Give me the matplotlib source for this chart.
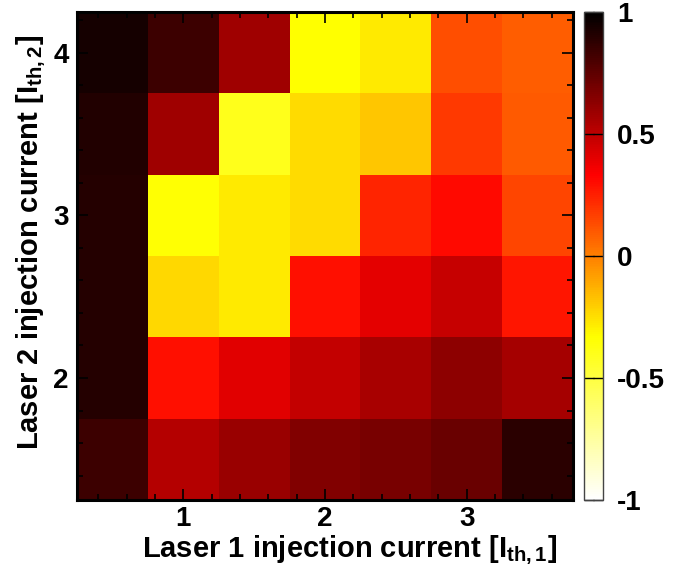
import numpy as np
import matplotlib
matplotlib.use('Agg')
from matplotlib import pyplot as plt
from matplotlib.colors import LinearSegmentedColormap
from matplotlib.ticker import MultipleLocator

plt.rcParams['font.family'] = ['Liberation Sans', 'DejaVu Sans']
plt.rcParams['font.weight'] = 'bold'
plt.rcParams['mathtext.fontset'] = 'custom'
plt.rcParams['mathtext.rm'] = 'Liberation Sans:bold'
plt.rcParams['mathtext.bf'] = 'Liberation Sans:bold'
plt.rcParams['mathtext.it'] = 'Liberation Sans:bold'

# laser 1 / laser 2 injection currents (cell centres)
i1 = [0.5, 1.0, 1.5, 2.0, 2.5, 3.0, 3.5]
i2 = [1.5, 2.0, 2.5, 3.0, 3.5, 4.0]

# correlation, rows from i2 = 1.5 up to 4.0
corr = [
    [0.84, 0.53, 0.60, 0.66, 0.68, 0.72, 0.89],
    [0.90, 0.29, 0.41, 0.49, 0.56, 0.63, 0.57],
    [0.90, -0.23, -0.28, 0.29, 0.40, 0.48, 0.28],
    [0.90, -0.34, -0.28, -0.24, 0.24, 0.31, 0.15],
    [0.91, 0.58, -0.40, -0.24, -0.18, 0.18, 0.10],
    [0.94, 0.84, 0.58, -0.33, -0.28, 0.13, 0.09],
]

cbar_ticks = [-1, -0.5, 0, 0.5, 1]

# gnuplot style "hot" palette, reversed
hot = {
    'red': [(0, 1, 1), (2/3, 1, 1), (1, 0, 0)],
    'green': [(0, 1, 1), (1/3, 1, 1), (2/3, 0, 0), (1, 0, 0)],
    'blue': [(0, 1, 1), (1/3, 0, 0), (1, 0, 0)],
}
cmap = LinearSegmentedColormap('gp_hot_r', hot, 256)

x = np.array(i1)
y = np.array(i2)
dx = (x[1] - x[0]) / 2
dy = (y[1] - y[0]) / 2
xe = np.append(x - dx, x[-1] + dx)
ye = np.append(y - dy, y[-1] + dy)

fig = plt.figure(figsize=(6.85, 5.71), dpi=100)
ax = fig.add_axes([0.1124, 0.1243, 0.724, 0.8546])
cax = fig.add_axes([0.8526, 0.1243, 0.0277, 0.8546])

mesh = ax.pcolormesh(xe, ye, np.array(corr), cmap=cmap, vmin=-1, vmax=1)
ax.set_xlim(xe[0], xe[-1])
ax.set_ylim(ye[0], ye[-1])

ax.set_xticks([1, 2, 3])
ax.set_yticks([2, 3, 4])
ax.xaxis.set_minor_locator(MultipleLocator(0.2))
ax.yaxis.set_minor_locator(MultipleLocator(0.2))
ax.tick_params(which='both', direction='in', top=True, right=True,
               labelsize=20, width=1.2)
ax.tick_params(which='major', length=8, pad=6)
ax.tick_params(axis='x', which='major', pad=4)
ax.tick_params(which='minor', length=4)
for s in ax.spines.values():
    s.set_linewidth(2.2)

ax.set_xlabel(r'Laser 1 injection current [I$_{\mathbf{th,1}}$]',
              fontsize=21, fontweight='bold')
ax.set_ylabel(r'Laser 2 injection current [I$_{\mathbf{th,2}}$]',
              fontsize=21, fontweight='bold')
ax.xaxis.set_label_coords(0.55, -0.07)
ax.yaxis.set_label_coords(-0.058, 0.527)

cb = fig.colorbar(mesh, cax=cax, ticks=cbar_ticks)
cb.ax.set_yticklabels(['-1', '-0.5', '0', '0.5', '1'])
cb.ax.tick_params(direction='in', left=True, right=True, length=7,
                  labelsize=20, width=1, pad=10)
cb.outline.set_linewidth(1)
cb.outline.set_edgecolor('#444444')

fig.savefig('out.png', dpi=100)
